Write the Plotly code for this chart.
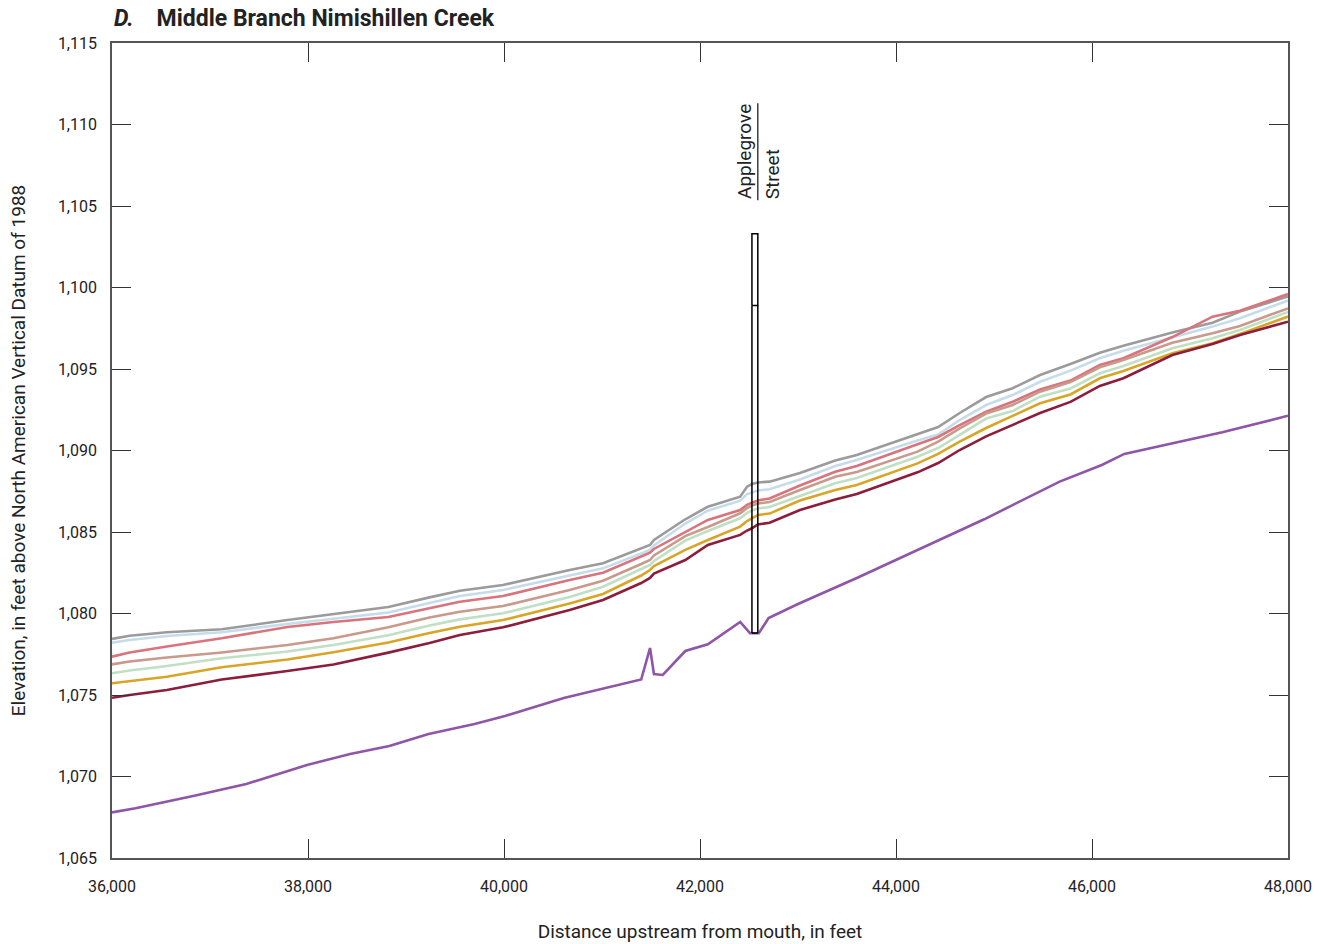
import plotly.graph_objects as go

# stations (feet upstream from mouth) shared by the water-surface profiles
station = [36000, 36180, 36560, 37120, 37790, 38260, 38820, 39240, 39550, 39990,
           40670, 41010, 41400, 41490, 41530, 41850, 42080, 42410, 42480, 42530,
           42590, 42710, 43020, 43380, 43600, 44220, 44430, 44650, 44920, 45190,
           45470, 45780, 46080, 46320, 46820, 47230, 47510, 48000]

ws_gray = [1078.44, 1078.64, 1078.85, 1079.03, 1079.60, 1079.95, 1080.40, 1080.99, 1081.40, 1081.75,
           1082.67, 1083.08, 1083.99, 1084.20, 1084.51, 1085.78, 1086.55, 1087.17, 1087.78, 1087.94,
           1088.04, 1088.09, 1088.62, 1089.39, 1089.72, 1090.98, 1091.44, 1092.30, 1093.28, 1093.82,
           1094.63, 1095.31, 1096.00, 1096.43, 1097.24, 1097.84, 1098.52, 1099.45]
ws_blue = [1078.21, 1078.37, 1078.62, 1078.85, 1079.36, 1079.66, 1080.06, 1080.64, 1081.07, 1081.44,
           1082.30, 1082.77, 1083.68, 1083.90, 1084.17, 1085.52, 1086.31, 1086.92, 1087.33, 1087.45,
           1087.55, 1087.62, 1088.22, 1089.05, 1089.42, 1090.61, 1090.98, 1091.87, 1092.79, 1093.40,
           1094.22, 1094.90, 1095.66, 1096.12, 1096.93, 1097.60, 1098.11, 1099.20]
ws_red = [1077.35, 1077.61, 1077.98, 1078.48, 1079.17, 1079.48, 1079.79, 1080.31, 1080.72, 1081.07,
          1082.06, 1082.50, 1083.47, 1083.73, 1083.96, 1085.02, 1085.74, 1086.35, 1086.66, 1086.80,
          1086.93, 1087.06, 1087.85, 1088.70, 1089.05, 1090.38, 1090.83, 1091.56, 1092.38, 1092.99,
          1093.75, 1094.29, 1095.25, 1095.66, 1096.96, 1098.21, 1098.58, 1099.60]
ws_brown = [1076.88, 1077.06, 1077.30, 1077.61, 1078.07, 1078.48, 1079.15, 1079.75, 1080.11, 1080.46,
            1081.44, 1082.01, 1083.04, 1083.28, 1083.56, 1084.75, 1085.31, 1086.15, 1086.47, 1086.63,
            1086.75, 1086.84, 1087.58, 1088.39, 1088.68, 1089.93, 1090.54, 1091.36, 1092.27, 1092.79,
            1093.61, 1094.20, 1095.10, 1095.55, 1096.61, 1097.19, 1097.64, 1098.72]
ws_green = [1076.33, 1076.50, 1076.78, 1077.25, 1077.67, 1078.07, 1078.66, 1079.26, 1079.64, 1080.01,
            1081.01, 1081.64, 1082.73, 1082.98, 1083.22, 1084.47, 1085.06, 1085.84, 1086.17, 1086.32,
            1086.44, 1086.53, 1087.21, 1087.99, 1088.31, 1089.62, 1090.15, 1090.95, 1091.96, 1092.42,
            1093.30, 1093.80, 1094.74, 1095.18, 1096.27, 1096.88, 1097.39, 1098.50]
ws_gold = [1075.72, 1075.86, 1076.12, 1076.70, 1077.18, 1077.62, 1078.22, 1078.80, 1079.19, 1079.60,
           1080.61, 1081.20, 1082.33, 1082.67, 1082.91, 1083.90, 1084.51, 1085.33, 1085.67, 1085.84,
           1086.04, 1086.13, 1086.93, 1087.58, 1087.88, 1089.21, 1089.79, 1090.55, 1091.38, 1092.12,
           1092.90, 1093.44, 1094.43, 1094.88, 1095.96, 1096.58, 1097.15, 1098.22]
ws_darkred = [1074.83, 1075.00, 1075.31, 1075.95, 1076.47, 1076.87, 1077.60, 1078.19, 1078.68, 1079.15,
              1080.21, 1080.83, 1081.87, 1082.18, 1082.45, 1083.28, 1084.20, 1084.82, 1085.09, 1085.23,
              1085.46, 1085.57, 1086.35, 1086.99, 1087.33, 1088.66, 1089.23, 1090.03, 1090.87, 1091.56,
              1092.30, 1092.98, 1093.96, 1094.43, 1095.86, 1096.53, 1097.09, 1097.90]

# channel bottom (thalweg)
bed_station = [36000, 36240, 36840, 37370, 37990, 38430, 38830, 39230, 39700, 40010,
               40610, 41400, 41490, 41530, 41620, 41850, 42080, 42410, 42510, 42600,
               42700, 43000, 43600, 44270, 44900, 45670, 46100, 46330, 46840, 47330, 48000]
bed_elev = [1067.80, 1068.05, 1068.82, 1069.54, 1070.71, 1071.38, 1071.87, 1072.61, 1073.22, 1073.71,
            1074.82, 1075.95, 1077.88, 1076.29, 1076.23, 1077.70, 1078.11, 1079.48, 1078.79, 1078.79,
            1079.72, 1080.58, 1082.18, 1084.02, 1085.78, 1088.09, 1089.11, 1089.79, 1090.48, 1091.12, 1092.13]

# Applegrove Street bridge
bridge_x = [42530, 42590]
bridge_bottom = 1078.8
bridge_low_chord = 1098.9
bridge_top = 1103.3

profiles = [
    (ws_gray, "#9b9b9b"),
    (ws_blue, "#c6dcea"),
    (ws_red, "#d9737c"),
    (ws_brown, "#c99a8b"),
    (ws_green, "#c0dfc5"),
    (ws_gold, "#d8a527"),
    (ws_darkred, "#8c1d3b"),
]

FONT = "Liberation Sans Narrow, Roboto, Arial, sans-serif"

fig = go.Figure()

for ys, col in profiles:
    fig.add_trace(go.Scatter(x=station, y=ys, mode="lines",
                             line=dict(color=col, width=2.6), hoverinfo="skip"))

fig.add_trace(go.Scatter(x=bed_station, y=bed_elev, mode="lines",
                         line=dict(color="#8f55a6", width=2.6), hoverinfo="skip"))

# bridge outline: deck plus opening walls
x0, x1 = bridge_x
fig.add_trace(go.Scatter(
    x=[x0, x1, x1, x0, x0, None, x0, x1, None, x0, x0, None, x1, x1],
    y=[bridge_low_chord, bridge_low_chord, bridge_top, bridge_top, bridge_low_chord, None,
       bridge_bottom, bridge_bottom, None, bridge_low_chord, bridge_bottom, None,
       bridge_low_chord, bridge_bottom],
    mode="lines", line=dict(color="black", width=1.5), hoverinfo="skip"))

label_font = dict(family=FONT, size=19, color="#222")
fig.add_annotation(x=42455, y=1108.35, text="Applegrove", textangle=-90, showarrow=False,
                   font=label_font, xanchor="center", yanchor="middle")
fig.add_annotation(x=42735, y=1106.95, text="Street", textangle=-90, showarrow=False,
                   font=label_font, xanchor="center", yanchor="middle")
fig.add_trace(go.Scatter(x=[x1, x1], y=[1105.35, 1111.3], mode="lines",
                         line=dict(color="#222", width=1.3), hoverinfo="skip"))

tick_font = dict(family=FONT, size=16, color="#222")
title_font = dict(family=FONT, size=19, color="#222")

fig.update_xaxes(range=[36000, 48000], tickvals=list(range(36000, 48001, 2000)),
                 tickformat=",d", ticks="inside", ticklen=19, tickwidth=1.3, tickcolor="#333",
                 showline=True, linecolor="#555", linewidth=1.6, mirror="ticks",
                 showgrid=False, zeroline=False, tickfont=tick_font, ticklabelstandoff=13,
                 automargin=False,
                 title=dict(text="Distance upstream from mouth, in feet",
                            font=title_font, standoff=30))
fig.update_yaxes(range=[1065, 1115], tickvals=list(range(1065, 1116, 5)),
                 tickformat=",d", ticks="inside", ticklen=19, tickwidth=1.3, tickcolor="#333",
                 showline=True, linecolor="#555", linewidth=1.6, mirror="ticks",
                 showgrid=False, zeroline=False, tickfont=tick_font, ticklabelstandoff=10,
                 automargin=False,
                 title=dict(text="Elevation, in feet above North American Vertical Datum of 1988",
                            font=title_font, standoff=27))

fig.add_annotation(xref="paper", yref="paper", x=0, y=1, yshift=25, xanchor="left",
                   yanchor="middle", showarrow=False,
                   text="<b><i>D.</i>&nbsp;&nbsp;&nbsp;&nbsp;Middle Branch Nimishillen Creek</b>",
                   font=dict(family=FONT, size=23, color="#222"))

fig.update_layout(width=1321, height=944, showlegend=False,
                  plot_bgcolor="white", paper_bgcolor="white",
                  margin=dict(l=112, r=33, t=43, b=86))

fig.write_html("out.html", config={"displayModeBar": False},
               post_script="document.body.style.margin='0';")
